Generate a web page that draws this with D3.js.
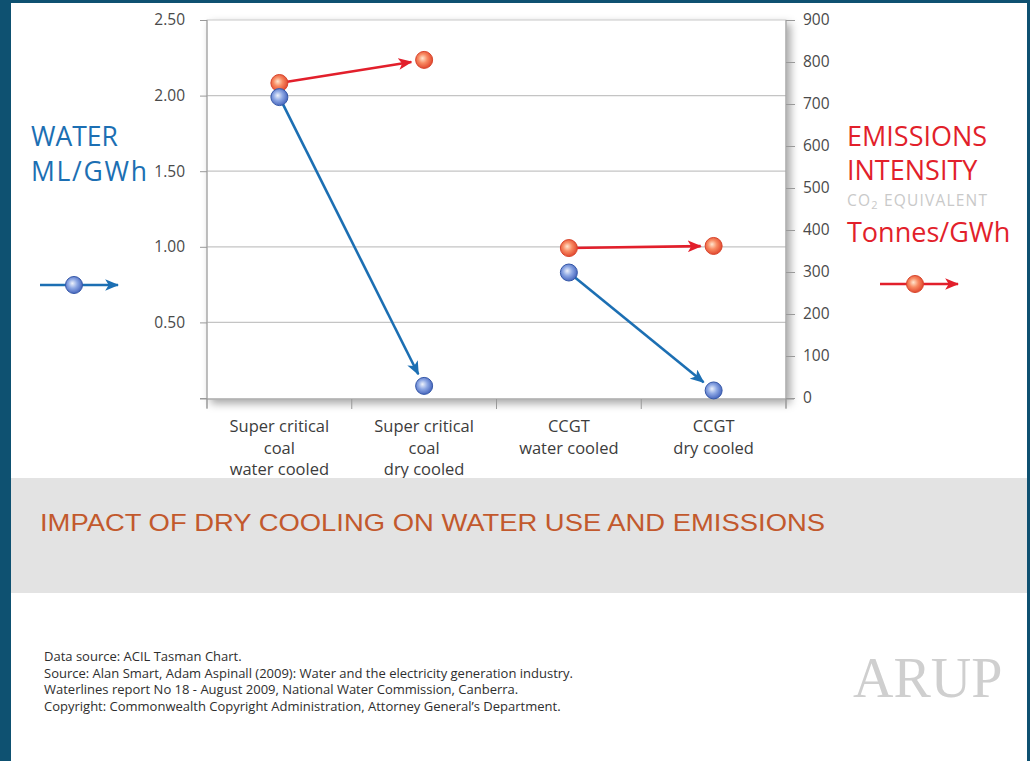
<!DOCTYPE html>
<html>
<head>
<meta charset="utf-8">
<script src="https://cdn.jsdelivr.net/npm/d3@7"></script>
<style>
  body { margin: 0; background: #fff; }
  svg { display: block; }
</style>
</head>
<body>
<div id="chart"></div>
<script>
// Data
var categories = ["sc_water", "sc_dry", "ccgt_water", "ccgt_dry"];
var categoryLabels = [
    ["Super critical", "coal", "water cooled"],
    ["Super critical", "coal", "dry cooled"],
    ["CCGT", "water cooled"],
    ["CCGT", "dry cooled"]
];
var water = [1.99, 0.08, 0.83, 0.05];          // ML/GWh, left axis
var emissions = [750, 805, 357, 362];          // Tonnes/GWh, right axis
var waterTicks = [0, 0.5, 1, 1.5, 2, 2.5];
var emissionTicks = [0, 100, 200, 300, 400, 500, 600, 700, 800, 900];
var gridTicks = [0.5, 1, 1.5, 2];
var arrowPairs = [[0, 1], [2, 3]];
var footerLines = [
    "Data source: ACIL Tasman Chart.",
    "Source: Alan Smart, Adam Aspinall (2009): Water and the electricity generation industry.",
    "Waterlines report No 18 - August 2009, National Water Commission, Canberra.",
    "Copyright: Commonwealth Copyright Administration, Attorney General\u2019s Department."
];

var width = 1030, height = 761;
var font = "'Open Sans', 'DejaVu Sans', sans-serif";
var blue = "#1c6fb3", red = "#e21f2b";

var svg = d3.select("#chart").append("svg")
    .attr("width", width)
    .attr("height", height)
    .style("font-family", font);

var defs = svg.append("defs");

// shadow behind the plot box
var shadow = defs.append("filter").attr("id", "shadow")
    .attr("x", "-5%").attr("y", "-5%").attr("width", "115%").attr("height", "120%");
shadow.append("feDropShadow")
    .attr("dx", 4).attr("dy", 4).attr("stdDeviation", 4)
    .attr("flood-color", "#000").attr("flood-opacity", 0.35);

// ball gradients
function ballGradient(id, stops) {
    var g = defs.append("radialGradient").attr("id", id)
        .attr("cx", "45%").attr("cy", "45%").attr("r", "60%")
        .attr("fx", "40%").attr("fy", "40%");
    stops.forEach(function (s) {
        g.append("stop").attr("offset", s[0]).attr("stop-color", s[1]);
    });
}
ballGradient("blueBall", [["0%", "#eef2fb"], ["45%", "#8ea8e4"], ["100%", "#3d5db8"]]);
ballGradient("redBall", [["0%", "#ffe6cf"], ["45%", "#f88a62"], ["100%", "#de3f28"]]);

// arrow heads
function arrowHead(id, color) {
    defs.append("marker").attr("id", id)
        .attr("viewBox", "0 -5 12 10")
        .attr("refX", 11).attr("refY", 0)
        .attr("markerUnits", "userSpaceOnUse")
        .attr("markerWidth", 14).attr("markerHeight", 12)
        .attr("orient", "auto")
        .append("path")
        .attr("d", "M0,-5L12,0L0,5L3,0Z")
        .attr("fill", color);
}
arrowHead("blueHead", blue);
arrowHead("redHead", red);

// frame
svg.append("rect").attr("x", 0).attr("y", 0).attr("width", 11).attr("height", height).attr("fill", "#0e5171");
svg.append("rect").attr("x", 0).attr("y", 0).attr("width", width).attr("height", 3).attr("fill", "#0e5171");
svg.append("rect").attr("x", width - 3).attr("y", 0).attr("width", 3).attr("height", height).attr("fill", "#0e5171");

// Scales
var plot = { left: 207, right: 786, top: 20, bottom: 399 };
var x = d3.scaleBand().domain(categories).range([plot.left, plot.right]);
var yL = d3.scaleLinear().domain([0, 2.5]).range([398, plot.top]);
var yR = d3.scaleLinear().domain([0, 900]).range([398, plot.top]);

// plot box
svg.append("rect")
    .attr("x", plot.left).attr("y", plot.top)
    .attr("width", plot.right - plot.left).attr("height", plot.bottom - plot.top)
    .attr("fill", "#fff")
    .attr("stroke", "#c8c8c8")
    .attr("filter", "url(#shadow)");

// gridlines
svg.append("g").selectAll("line")
    .data(gridTicks)
    .enter().append("line")
    .attr("x1", plot.left).attr("x2", plot.right)
    .attr("y1", function (d) { return yL(d); })
    .attr("y2", function (d) { return yL(d); })
    .attr("stroke", "#c4c4c4").attr("stroke-width", 1.2);

// left axis
var leftAxis = svg.append("g")
    .attr("transform", "translate(" + plot.left + ",0)")
    .call(d3.axisLeft(yL).tickValues(waterTicks)
        .tickFormat(function (d) { return d ? d3.format(".2f")(d) : ""; })
        .tickSize(7).tickPadding(15));

// right axis
var rightAxis = svg.append("g")
    .attr("transform", "translate(" + plot.right + ",0)")
    .call(d3.axisRight(yR).tickValues(emissionTicks).tickSize(9).tickPadding(8));

// bottom axis
var bottomAxis = svg.append("g")
    .attr("transform", "translate(0," + plot.bottom + ")")
    .call(d3.axisBottom(x).tickValues([]).tickSizeOuter(0));
bottomAxis.select(".domain").attr("d", "M200,0H794");
bottomAxis.selectAll(".edge")
    .data(d3.range(categories.length + 1))
    .enter().append("line")
    .attr("class", "edge")
    .attr("x1", function (i) { return plot.left + i * x.step(); })
    .attr("x2", function (i) { return plot.left + i * x.step(); })
    .attr("y1", 0).attr("y2", 10)
    .attr("stroke", "#999");

leftAxis.select(".domain").attr("d", "M0," + plot.top + "V408");
rightAxis.select(".domain").attr("d", "M0," + plot.top + "V408");

[leftAxis, rightAxis, bottomAxis].forEach(function (a) {
    a.selectAll(".domain").attr("stroke", "#999");
    a.selectAll(".tick line").attr("stroke", "#999");
    a.selectAll(".tick text")
        .attr("fill", "#4a4a4a")
        .style("font-family", font)
        .style("font-size", "15.5px");
});

// category labels
var catG = svg.append("g").selectAll("text")
    .data(categories)
    .enter().append("text")
    .attr("text-anchor", "middle")
    .attr("fill", "#3c3c3c")
    .style("font-size", "16.5px");
catG.each(function (d, i) {
    var t = d3.select(this);
    categoryLabels[i].forEach(function (line, j) {
        t.append("tspan")
            .attr("x", x(d) + x.bandwidth() / 2)
            .attr("y", 432 + j * 21.5)
            .text(line);
    });
});

// arrows
function cx(i) { return x(categories[i]) + x.bandwidth() / 2; }
function drawArrows(values, scale, color, head) {
    arrowPairs.forEach(function (p) {
        var x1 = cx(p[0]), y1 = scale(values[p[0]]);
        var x2 = cx(p[1]), y2 = scale(values[p[1]]);
        var dx = x2 - x1, dy = y2 - y1, len = Math.sqrt(dx * dx + dy * dy);
        var cut = 13;
        svg.append("line")
            .attr("x1", x1).attr("y1", y1)
            .attr("x2", x2 - dx / len * cut).attr("y2", y2 - dy / len * cut)
            .attr("stroke", color).attr("stroke-width", 2.6)
            .attr("marker-end", "url(#" + head + ")");
    });
}
drawArrows(water, yL, blue, "blueHead");
drawArrows(emissions, yR, red, "redHead");

// balls
function drawBalls(values, scale, fill, stroke) {
    svg.append("g").selectAll("circle")
        .data(values)
        .enter().append("circle")
        .attr("cx", function (d, i) { return cx(i); })
        .attr("cy", function (d) { return scale(d); })
        .attr("r", 8.5)
        .attr("fill", fill)
        .attr("stroke", stroke).attr("stroke-width", 1);
}
drawBalls(emissions, yR, "url(#redBall)", "#d8452c");
drawBalls(water, yL, "url(#blueBall)", "#3558a8");

// left legend
var wl = svg.append("g").attr("fill", blue).style("font-size", "26.5px");
wl.append("text").attr("x", 31).attr("y", 146).text("WATER");
wl.append("text").attr("x", 31).attr("y", 181).attr("textLength", 116).text("ML/GWh");
svg.append("line").attr("x1", 40).attr("y1", 285).attr("x2", 118).attr("y2", 285)
    .attr("stroke", blue).attr("stroke-width", 2.6).attr("marker-end", "url(#blueHead)");
svg.append("circle").attr("cx", 74).attr("cy", 285).attr("r", 8.5)
    .attr("fill", "url(#blueBall)").attr("stroke", "#3558a8");

// right legend
var rl = svg.append("g").attr("fill", red).style("font-size", "27px");
rl.append("text").attr("x", 847).attr("y", 146).text("EMISSIONS");
rl.append("text").attr("x", 847).attr("y", 180).text("INTENSITY");
rl.append("text").attr("x", 847).attr("y", 242).text("Tonnes/GWh");
var co2 = svg.append("text").attr("x", 847).attr("y", 206)
    .attr("fill", "#c9c9c9").style("font-size", "15.5px").style("letter-spacing", "1.2px");
co2.append("tspan").text("CO");
co2.append("tspan").attr("dy", 3).style("font-size", "11px").text("2");
co2.append("tspan").attr("dy", -3).text(" EQUIVALENT");
svg.append("line").attr("x1", 880).attr("y1", 284).attr("x2", 958).attr("y2", 284)
    .attr("stroke", red).attr("stroke-width", 2.6).attr("marker-end", "url(#redHead)");
svg.append("circle").attr("cx", 915).attr("cy", 284).attr("r", 8.5)
    .attr("fill", "url(#redBall)").attr("stroke", "#d8452c");

// title banner
svg.append("rect").attr("x", 11).attr("y", 478).attr("width", width - 14).attr("height", 115)
    .attr("fill", "#e3e3e3");
svg.append("text")
    .attr("x", 40).attr("y", 531)
    .attr("fill", "#c2592d")
    .attr("textLength", 785)
    .attr("lengthAdjust", "spacingAndGlyphs")
    .style("font-family", "'Liberation Sans', Arial, sans-serif")
    .style("font-size", "24.5px")
    .text("IMPACT OF DRY COOLING ON WATER USE AND EMISSIONS");

// footer
svg.append("g").selectAll("text")
    .data(footerLines)
    .enter().append("text")
    .attr("x", 44)
    .attr("y", function (d, i) { return 661 + i * 16.5; })
    .attr("fill", "#2e2e2e")
    .style("font-size", "13px")
    .text(function (d) { return d; });

svg.append("text")
    .attr("x", 853).attr("y", 697)
    .attr("fill", "#cfcfcf")
    .style("font-family", "'Liberation Serif', 'DejaVu Serif', serif")
    .style("font-size", "56px")
    .text("ARUP");
</script>
</body>
</html>
